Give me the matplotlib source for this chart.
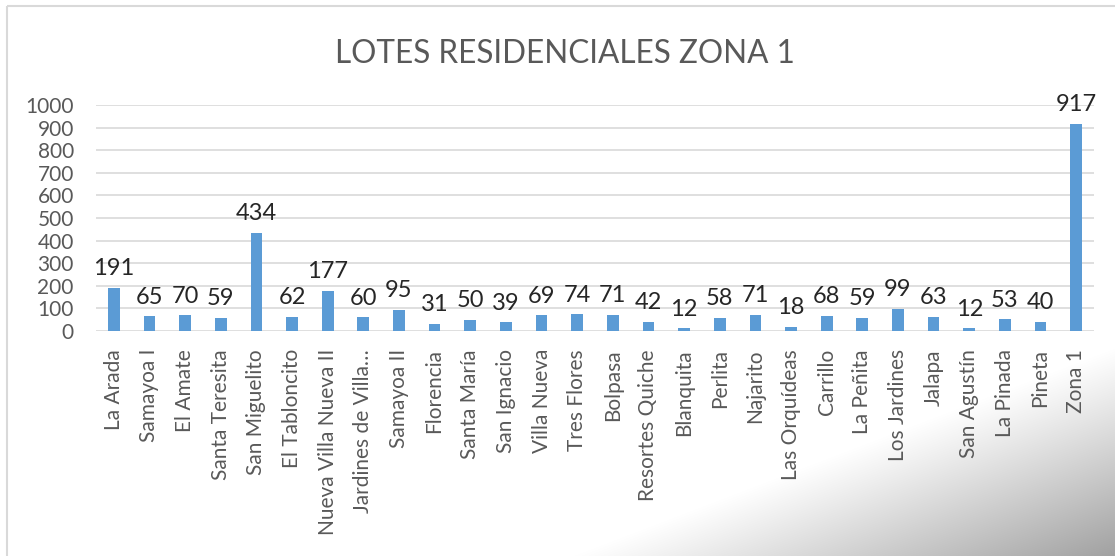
import matplotlib

matplotlib.use("Agg")
import matplotlib.pyplot as plt
import numpy as np
from matplotlib.patches import Rectangle

plt.rcParams["font.family"] = ["Lato", "DejaVu Sans"]

lotes = [
    "La Arada", "Samayoa I", "El Amate", "Santa Teresita", "San Miguelito",
    "El Tabloncito", "Nueva Villa Nueva II", "Jardines de Villa…", "Samayoa II",
    "Florencia", "Santa María", "San Ignacio", "Villa Nueva", "Tres Flores",
    "Bolpasa", "Resortes Quiche", "Blanquita", "Perlita", "Najarito",
    "Las Orquídeas", "Carrillo", "La Peñita", "Los Jardines", "Jalapa",
    "San Agustín", "La Pinada", "Pineta", "Zona 1",
]
cantidad = [
    191, 65, 70, 59, 434, 62, 177, 60, 95, 31, 50, 39, 69, 74,
    71, 42, 12, 58, 71, 18, 68, 59, 99, 63, 12, 53, 40, 917,
]
yticks = list(range(0, 1001, 100))

W, H = 1115, 556
fig = plt.figure(figsize=(W / 100, H / 100), dpi=100)

# background with the grey shading in the lower right corner
bg = fig.add_axes([0, 0, 1, 1], zorder=-1)
bg.set_axis_off()
xx, yy = np.meshgrid(np.arange(W), np.arange(H))
d = ((xx - 565) * 0.358 + (yy - 556) * 0.934) / 200.0
t = np.clip(d, 0, 1)
img = np.ones((H, W, 4))
img[..., :3] = 0.0
img[..., 3] = 0.38 * t ** 1.05
bg.imshow(np.ones((H, W, 3)), extent=(0, W, H, 0), aspect="auto")
bg.imshow(img, extent=(0, W, H, 0), aspect="auto")
bg.add_patch(Rectangle((7, 6), W + 20, H + 20, fill=False, edgecolor="#d9d9d9", linewidth=1.5))
bg.set_xlim(0, W)
bg.set_ylim(H, 0)

ax = fig.add_axes([96 / W, 1 - 331 / H, 998 / W, 226 / H])
ax.patch.set_visible(False)
x = np.arange(len(lotes))
bars = ax.bar(x, cantidad, width=0.33, color="#5b9bd5", zorder=3)
for xi, v in zip(x, cantidad):
    ax.annotate(str(v), (xi, v), xytext=(0, 9), textcoords="offset points",
                ha="center", va="baseline", fontsize=17, color="#262626")

ax.set_xlim(-0.5, len(lotes) - 0.5)
ax.set_ylim(0, 1000)
ax.set_yticks(yticks)
ax.set_xticks(x)
ax.set_xticklabels(lotes, rotation=90)
ax.tick_params(axis="y", length=0, pad=16, labelsize=15, labelcolor="#595959")
ax.tick_params(axis="x", length=0, pad=13, labelsize=15, labelcolor="#595959")
ax.grid(axis="y", color="#d9d9d9", linewidth=1.2, zorder=0)
for s in ax.spines.values():
    s.set_visible(False)

fig.text(565 / W, 1 - 63 / H, "LOTES RESIDENCIALES ZONA 1", ha="center", va="baseline",
         fontsize=22.7, color="#595959")

fig.savefig("out.png", dpi=100)
